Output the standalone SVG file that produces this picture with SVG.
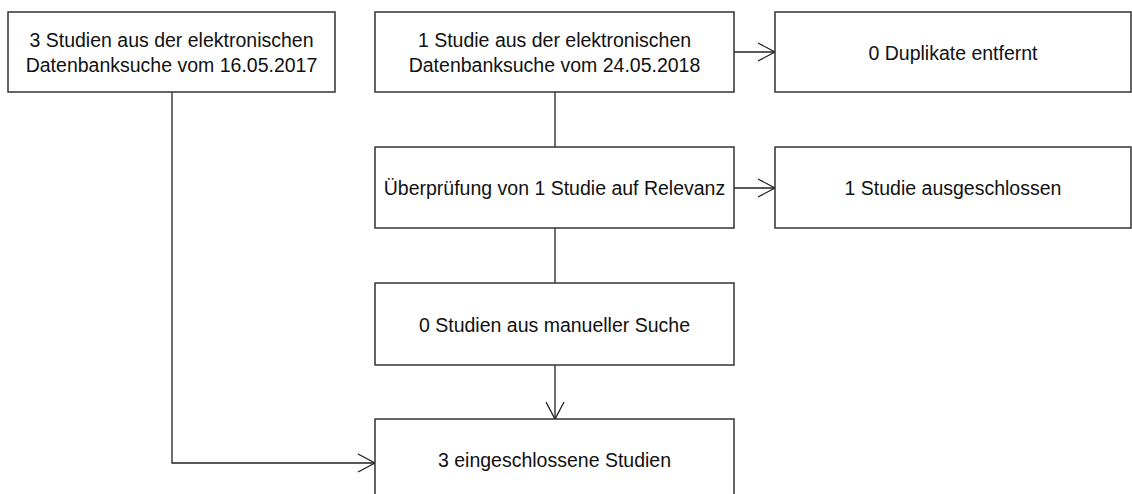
<svg xmlns="http://www.w3.org/2000/svg" width="1132" height="494" viewBox="0 0 1132 494">
<defs>
<style>
.box{fill:#fff;stroke:#333;stroke-width:1.5}
.t{font-family:"Liberation Sans",Arial,sans-serif;font-size:19.5px;fill:#111;text-anchor:middle}
.c{fill:none;stroke:#222;stroke-width:1.3}
</style>
<marker id="arr" markerWidth="22" markerHeight="22" refX="18" refY="10" orient="auto" markerUnits="userSpaceOnUse">
<path d="M1,1 L18,10 L1,19" fill="none" stroke="#222" stroke-width="1.3"/>
</marker>
</defs>
<rect width="1132" height="494" fill="#fff"/>
<g id="connectors">
<path class="c" d="M734,52 H775" marker-end="url(#arr)"/>
<path class="c" d="M734,188 H775" marker-end="url(#arr)"/>
<path class="c" d="M555,92 V147"/>
<path class="c" d="M555,228 V283"/>
<path class="c" d="M555,365 V419" marker-end="url(#arr)"/>
<path class="c" d="M172,92 V463 H375" marker-end="url(#arr)"/>
</g>
<g id="n1"><rect class="box" x="8" y="12" width="327" height="80"/><text class="t" x="171.5" y="47">3 Studien aus der elektronischen</text><text class="t" x="171.5" y="72">Datenbanksuche vom 16.05.2017</text></g>
<g id="n2"><rect class="box" x="375" y="12" width="359" height="80"/><text class="t" x="554.5" y="47">1 Studie aus der elektronischen</text><text class="t" x="554.5" y="72">Datenbanksuche vom 24.05.2018</text></g>
<g id="n3"><rect class="box" x="775" y="12" width="356" height="80"/><text class="t" x="953" y="60">0 Duplikate entfernt</text></g>
<g id="n4"><rect class="box" x="375" y="147" width="359" height="81"/><text class="t" x="554.5" y="195">Überprüfung von 1 Studie auf Relevanz</text></g>
<g id="n5"><rect class="box" x="775" y="147" width="356" height="81"/><text class="t" x="953" y="195">1 Studie ausgeschlossen</text></g>
<g id="n6"><rect class="box" x="375" y="283" width="359" height="82"/><text class="t" x="554.5" y="332">0 Studien aus manueller Suche</text></g>
<g id="n7"><rect class="box" x="375" y="419" width="359" height="90"/><text class="t" x="554.5" y="467">3 eingeschlossene Studien</text></g>
</svg>
